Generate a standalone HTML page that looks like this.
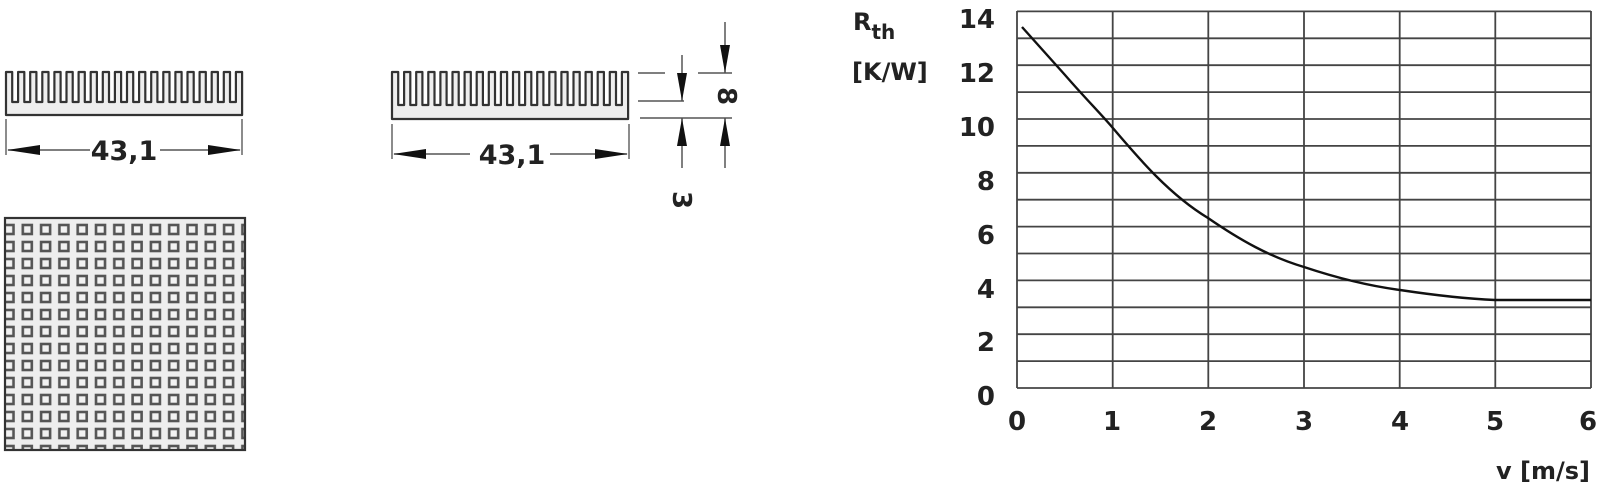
<!DOCTYPE html>
<html><head><meta charset="utf-8"><style>
html,body{margin:0;padding:0;background:#fff;}
svg{display:block;font-family:"DejaVu Sans","Liberation Sans",sans-serif;font-weight:bold;}
</style></head><body>
<svg width="1600" height="486" viewBox="0 0 1600 486" xmlns="http://www.w3.org/2000/svg">
<defs>
<pattern id="sq" x="0" y="0" width="18.3" height="17" patternUnits="userSpaceOnUse">
<rect x="4.5" y="4" width="9" height="9" fill="#f2f2f2" stroke="#555" stroke-width="2.6"/>
</pattern>
<clipPath id="pc"><rect x="5" y="218" width="240" height="232"/></clipPath>
</defs>
<!-- left heatsink -->
<path d="M6,115 V72 h6.2 v30 h5.9 v-30 h6.2 v30 h5.9 v-30 h6.2 v30 h5.9 v-30 h6.2 v30 h5.9 v-30 h6.2 v30 h5.9 v-30 h6.2 v30 h5.9 v-30 h6.2 v30 h5.9 v-30 h6.2 v30 h5.9 v-30 h6.2 v30 h5.9 v-30 h6.2 v30 h5.9 v-30 h6.2 v30 h5.9 v-30 h6.2 v30 h5.9 v-30 h6.2 v30 h5.9 v-30 h6.2 v30 h5.9 v-30 h6.2 v30 h5.9 v-30 h6.2 v30 h5.9 v-30 h6.2 v30 h5.9 v-30 h6.2 v30 h5.9 v-30 h6.2 v30 h5.9 v-30 h6.2 V115 Z" fill="#eee" stroke="#333" stroke-width="2.2" stroke-linejoin="round"/>
<line x1="6" y1="119" x2="6" y2="155" stroke="#666" stroke-width="1.5"/>
<line x1="242" y1="119" x2="242" y2="155" stroke="#666" stroke-width="1.5"/>
<line x1="8" y1="150" x2="90" y2="150" stroke="#555" stroke-width="1.5"/>
<line x1="160" y1="150" x2="240" y2="150" stroke="#555" stroke-width="1.5"/>
<polygon points="7,150 40,145 40,155" fill="#111"/>
<polygon points="241,150 208,145 208,155" fill="#111"/>
<text x="124" y="160" font-size="27" text-anchor="middle" fill="#222">43,1</text>
<!-- grid plate -->
<rect x="5" y="218" width="240" height="232" fill="#eee"/>
<g clip-path="url(#pc)"><rect x="-6" y="205" width="270" height="260" fill="url(#sq)"/></g>
<rect x="5" y="218" width="240" height="232" fill="none" stroke="#333" stroke-width="2.2"/>
<!-- right heatsink -->
<path d="M392,119 V72 h6.2 v33 h5.9 v-33 h6.2 v33 h5.9 v-33 h6.2 v33 h5.9 v-33 h6.2 v33 h5.9 v-33 h6.2 v33 h5.9 v-33 h6.2 v33 h5.9 v-33 h6.2 v33 h5.9 v-33 h6.2 v33 h5.9 v-33 h6.2 v33 h5.9 v-33 h6.2 v33 h5.9 v-33 h6.2 v33 h5.9 v-33 h6.2 v33 h5.9 v-33 h6.2 v33 h5.9 v-33 h6.2 v33 h5.9 v-33 h6.2 v33 h5.9 v-33 h6.2 v33 h5.9 v-33 h6.2 v33 h5.9 v-33 h6.2 v33 h5.9 v-33 h6.2 v33 h5.9 v-33 h6.2 V119 Z" fill="#eee" stroke="#333" stroke-width="2.2" stroke-linejoin="round"/>
<line x1="392" y1="124" x2="392" y2="159" stroke="#666" stroke-width="1.5"/>
<line x1="629" y1="124" x2="629" y2="159" stroke="#666" stroke-width="1.5"/>
<line x1="394" y1="154" x2="470" y2="154" stroke="#555" stroke-width="1.5"/>
<line x1="550" y1="154" x2="627" y2="154" stroke="#555" stroke-width="1.5"/>
<polygon points="393,154 426,149 426,159" fill="#111"/>
<polygon points="628,154 595,149 595,159" fill="#111"/>
<text x="512" y="164" font-size="27" text-anchor="middle" fill="#222">43,1</text>
<!-- height dims -->
<g stroke="#555" stroke-width="1.5">
<line x1="638" y1="73" x2="665" y2="73"/>
<line x1="698" y1="73" x2="732" y2="73"/>
<line x1="638" y1="101" x2="684" y2="101"/>
<line x1="640" y1="118" x2="732" y2="118"/>
<line x1="682" y1="55" x2="682" y2="101"/>
<line x1="682" y1="118" x2="682" y2="168"/>
<line x1="725" y1="22" x2="725" y2="73"/>
<line x1="725" y1="118" x2="725" y2="168"/>
</g>
<polygon points="682,101 677,73 687,73" fill="#111"/>
<polygon points="682,118 677,146 687,146" fill="#111"/>
<polygon points="725,73 720,45 730,45" fill="#111"/>
<polygon points="725,118 720,146 730,146" fill="#111"/>
<text transform="translate(718,96) rotate(90)" font-size="26" text-anchor="middle" fill="#222">8</text>
<text transform="translate(673,200) rotate(90)" font-size="26" text-anchor="middle" fill="#222">3</text>
<!-- chart grid -->
<g stroke="#444" stroke-width="1.8">
<line x1="1017" y1="11.4" x2="1591" y2="11.4"/>
<line x1="1017" y1="38.3" x2="1591" y2="38.3"/>
<line x1="1017" y1="65.2" x2="1591" y2="65.2"/>
<line x1="1017" y1="92.1" x2="1591" y2="92.1"/>
<line x1="1017" y1="119" x2="1591" y2="119"/>
<line x1="1017" y1="145.9" x2="1591" y2="145.9"/>
<line x1="1017" y1="172.8" x2="1591" y2="172.8"/>
<line x1="1017" y1="199.7" x2="1591" y2="199.7"/>
<line x1="1017" y1="226.6" x2="1591" y2="226.6"/>
<line x1="1017" y1="253.5" x2="1591" y2="253.5"/>
<line x1="1017" y1="280.4" x2="1591" y2="280.4"/>
<line x1="1017" y1="307.3" x2="1591" y2="307.3"/>
<line x1="1017" y1="334.2" x2="1591" y2="334.2"/>
<line x1="1017" y1="361.1" x2="1591" y2="361.1"/>
<line x1="1017" y1="388" x2="1591" y2="388"/>
<line x1="1017" y1="11" x2="1017" y2="388"/>
<line x1="1112.7" y1="11" x2="1112.7" y2="388"/>
<line x1="1208.3" y1="11" x2="1208.3" y2="388"/>
<line x1="1304" y1="11" x2="1304" y2="388"/>
<line x1="1399.7" y1="11" x2="1399.7" y2="388"/>
<line x1="1495.3" y1="11" x2="1495.3" y2="388"/>
<line x1="1591" y1="11" x2="1591" y2="388"/>
</g>
<path d="M1022,27 L1065,75 C1085,98 1100,113 1112,127 C1140,160 1170,195 1208,218 C1240,240 1270,257 1304,267 C1340,279 1370,286 1400,290 C1440,296 1470,299 1495,300 L1591,300" fill="none" stroke="#111" stroke-width="2.4"/>
<!-- axis labels -->
<g font-size="26" fill="#222" text-anchor="end">
<text x="995" y="28">14</text>
<text x="995" y="82">12</text>
<text x="995" y="136">10</text>
<text x="995" y="190">8</text>
<text x="995" y="244">6</text>
<text x="995" y="298">4</text>
<text x="995" y="351">2</text>
<text x="995" y="405">0</text>
</g>
<g font-size="26" fill="#222" text-anchor="middle">
<text x="1017" y="430">0</text>
<text x="1112" y="430">1</text>
<text x="1208" y="430">2</text>
<text x="1304" y="430">3</text>
<text x="1400" y="430">4</text>
<text x="1495" y="430">5</text>
<text x="1588" y="430">6</text>
</g>
<text x="1590" y="479" font-size="24" text-anchor="end" fill="#222">v [m/s]</text>
<text x="853" y="30" font-size="24" fill="#222">R<tspan font-size="20" dy="9">th</tspan></text>
<text x="852" y="80" font-size="24" fill="#222">[K/W]</text>
</svg>
</body></html>
